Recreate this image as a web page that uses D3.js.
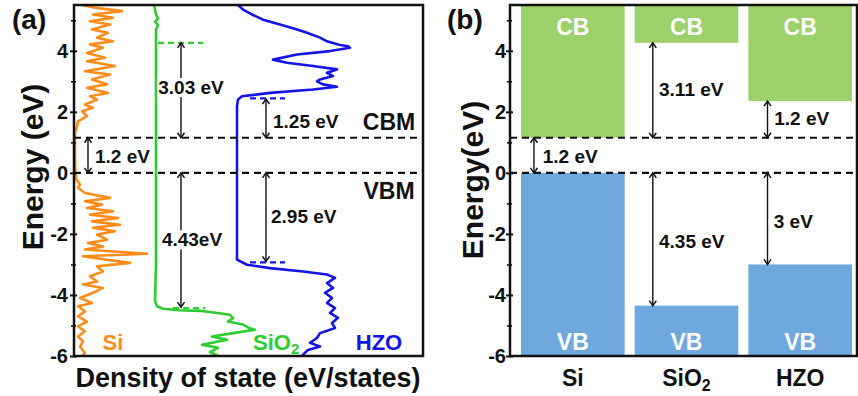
<!DOCTYPE html>
<html>
<head>
<meta charset="utf-8">
<script src="https://cdn.jsdelivr.net/npm/d3@7"></script>
<style>
  body { margin: 0; background: #fff; }
  svg { display: block; font-family: "Liberation Sans", Arial, sans-serif; font-weight: bold; }
</style>
</head>
<body>
<div id="chart"></div>
<script>

// ---- data ----
// DOS curves: [energy (eV), density (arb. units)]
var siDos = [
  [5.5,0.8],[5.42,2.0],[5.30,4.8],[5.19,1.9],[5.08,3.9],[4.97,1.6],[4.86,3.6],[4.70,1.8],[4.59,3.4],
  [4.43,2.3],[4.31,3.9],[4.21,1.6],[4.10,2.9],[3.93,1.3],[3.77,3.1],[3.66,1.3],[3.50,4.1],[3.33,1.1],
  [3.22,3.6],[3.06,1.8],[2.90,3.3],[2.79,1.3],[2.62,3.4],[2.51,1.6],[2.40,2.3],[2.24,1.1],[2.13,1.9],
  [2.02,0.8],[1.86,1.3],[1.69,0.4],[1.53,0.3],[1.31,0.1],[1.0,0.1],[0.5,0.1],[0.0,0.15],[-0.2,0.2],
  [-0.38,0.6],[-0.49,0.4],[-0.66,1.1],[-0.82,3.6],[-0.93,1.1],[-1.04,2.8],[-1.15,1.3],[-1.26,3.9],
  [-1.37,1.6],[-1.48,4.4],[-1.59,1.8],[-1.70,4.6],[-1.80,1.9],[-1.91,4.1],[-2.02,2.3],[-2.19,3.3],
  [-2.30,1.4],[-2.41,2.9],[-2.51,1.1],[-2.65,7.3],[-2.73,0.9],[-2.84,3.1],[-2.95,5.6],[-3.06,2.3],
  [-3.23,2.9],[-3.39,1.6],[-3.56,2.3],[-3.66,0.9],[-3.77,2.9],[-3.93,1.9],[-4.10,0.6],[-4.26,1.8],
  [-4.37,0.4],[-4.54,1.1],[-4.70,0.4],[-4.87,1.3],[-5.03,0.4],[-5.19,1.1],[-5.36,0.4],[-5.52,0.9],
  [-5.69,0.6],[-5.91,1.1],[-6.0,0.8]
];
var sio2Dos = [
  [5.5,8.0],[5.2,8.2],[5.05,8.4],[4.95,8.1],[4.85,8.4],[4.7,8.2],[4.4,8.2],[3.0,8.2],[1.0,8.2],
  [-1.0,8.2],[-3.0,8.2],[-4.2,8.1],[-4.37,8.3],[-4.45,8.9],[-4.5,10.5],[-4.52,12.6],[-4.6,14.5],
  [-4.65,15.6],[-4.76,15.9],[-4.87,15.4],[-4.97,16.9],[-5.08,17.5],[-5.14,18.1],[-5.25,15.9],
  [-5.36,13.8],[-5.47,15.3],[-5.63,12.8],[-5.73,14.4],[-5.87,13.6],[-6.0,14.4]
];
var hzoDos = [
  [5.5,16.4],[5.35,16.9],[5.19,17.8],[5.02,18.9],[4.86,20.6],[4.70,22.3],[4.59,23.3],[4.43,24.6],
  [4.31,25.3],[4.20,26.5],[4.15,27.4],[4.10,27.6],[3.99,25.6],[3.88,22.3],[3.71,19.9],[3.61,21.3],
  [3.50,23.9],[3.39,26.3],[3.28,25.3],[3.17,25.9],[3.06,24.6],[3.00,24.3],[2.90,24.9],[2.82,26.3],
  [2.73,23.9],[2.62,19.6],[2.51,16.8],[2.40,16.4],[2.18,16.3],[0,16.3],[-2.84,16.3],[-3.01,17.3],
  [-3.12,19.6],[-3.23,22.9],[-3.33,25.3],[-3.44,26.1],[-3.61,25.3],[-3.77,25.9],[-3.93,25.1],
  [-4.10,25.8],[-4.26,25.3],[-4.43,26.1],[-4.59,25.6],[-4.75,26.4],[-4.92,25.8],[-5.08,26.1],
  [-5.25,24.6],[-5.41,24.3],[-5.57,23.6],[-5.69,24.6],[-5.80,23.4],[-5.96,22.9],[-6.0,22.9]
];

var materials = ["Si", "SiO2", "HZO"];
var cbBottom = [1.15, 4.26, 2.35];
var vbTop = [0, -4.35, -3.0];
var cbm = 1.15, vbm = 0;

var majorTicks = [-6, -4, -2, 0, 2, 4];
var minorTicks = [-5, -3, -1, 1, 3, 5];

// panel (a) annotations
var dashMarksA = [
  { e: 4.26, x0: 8.4, x1: 12.9, color: "#2ecc2e" },
  { e: -4.43, x0: 9.9, x1: 13.1, color: "#2ecc2e" },
  { e: 2.44, x0: 17.6, x1: 21.1, color: "#1414e6" },
  { e: -2.93, x0: 17.6, x1: 21.1, color: "#1414e6" }
];
var arrowsA = [
  { x: 1.4, e0: 0, e1: cbm },
  { x: 10.7, e0: cbm, e1: 4.26 },
  { x: 10.7, e0: 0, e1: -4.4 },
  { x: 19.2, e0: cbm, e1: 2.42 },
  { x: 19.2, e0: 0, e1: -2.9 }
];
var labelsA = [
  { t: "1.2 eV", x: 2.1, e: 0.55, anchor: "start", box: false },
  { t: "3.03 eV", x: 11.7, e: 2.8, anchor: "middle", box: true },
  { t: "4.43eV", x: 11.8, e: -2.19, anchor: "middle", box: true },
  { t: "1.25 eV", x: 19.9, e: 1.68, anchor: "start", box: false },
  { t: "2.95 eV", x: 19.7, e: -1.43, anchor: "start", box: false }
];

// panel (b) annotations (x as fraction of bar width)
var arrowsB = [
  { m: "Si", f: 0.125, e0: 0, e1: cbm },
  { m: "SiO2", f: 0.175, e0: cbm, e1: 4.26 },
  { m: "SiO2", f: 0.175, e0: 0, e1: -4.35 },
  { m: "HZO", f: 0.185, e0: cbm, e1: 2.35 },
  { m: "HZO", f: 0.185, e0: 0, e1: -3.0 }
];
var labelsB = [
  { m: "Si", f: 0.21, e: 0.53, t: "1.2 eV" },
  { m: "SiO2", f: 0.235, e: 2.73, t: "3.11 eV" },
  { m: "SiO2", f: 0.235, e: -2.25, t: "4.35 eV" },
  { m: "HZO", f: 0.25, e: 1.78, t: "1.2 eV" },
  { m: "HZO", f: 0.245, e: -1.6, t: "3 eV" }
];

var width = 858, height = 396;

var svg = d3.select("#chart").append("svg")
  .attr("width", width)
  .attr("height", height);

var defs = svg.append("defs");
defs.append("marker")
  .attr("id", "head")
  .attr("viewBox", "-6 -5 8 10")
  .attr("refX", 0).attr("refY", 0)
  .attr("markerWidth", 8).attr("markerHeight", 10)
  .attr("markerUnits", "userSpaceOnUse")
  .attr("orient", "auto-start-reverse")
  .append("path")
    .attr("d", "M-5,-3.5L0,0L-5,3.5")
    .attr("fill", "none")
    .attr("stroke", "#111")
    .attr("stroke-width", 1.5);

var y = d3.scaleLinear().domain([-6, 5.5]).range([356, 5]);

function drawYAxis(g, x0, pad) {
  var ax = g.append("g").attr("transform", "translate(" + x0 + ",0)")
    .call(d3.axisLeft(y).tickValues(majorTicks).tickSize(4).tickPadding(pad)
      .tickFormat(function(d) { return String(d); }));
  ax.select(".domain").remove();
  ax.selectAll("line").attr("x1", 3).attr("stroke", "#111").attr("stroke-width", 2);
  ax.selectAll("text").attr("font-size", 20).attr("font-weight", "bold").attr("fill", "#111")
    .attr("font-family", "Liberation Sans, Arial, sans-serif");
  var mi = g.append("g").attr("transform", "translate(" + x0 + ",0)")
    .call(d3.axisLeft(y).tickValues(minorTicks).tickSize(3).tickFormat(""));
  mi.select(".domain").remove();
  mi.selectAll("line").attr("x1", 2).attr("stroke", "#111").attr("stroke-width", 1.6);
}

function arrow(g, x, e0, e1) {
  g.append("line")
    .attr("x1", x).attr("x2", x)
    .attr("y1", y(e0)).attr("y2", y(e1))
    .attr("stroke", "#111").attr("stroke-width", 1.4)
    .attr("marker-start", "url(#head)")
    .attr("marker-end", "url(#head)");
}

// ===================== panel (a) =====================
var ga = svg.append("g");
var xa = d3.scaleLinear().domain([0, 34.9]).range([74, 423]);

defs.append("clipPath").attr("id", "clipA")
  .append("rect").attr("x", 74).attr("y", 5).attr("width", 349).attr("height", 351);

var line = d3.line()
  .x(function(d) { return xa(d[1]); })
  .y(function(d) { return y(d[0]); });

var curves = ga.append("g").attr("clip-path", "url(#clipA)");
[[siDos, "#ff8c1a"], [sio2Dos, "#2ecc2e"], [hzoDos, "#1414e6"]].forEach(function(c) {
  curves.append("path")
    .datum(c[0])
    .attr("d", line)
    .attr("fill", "none")
    .attr("stroke", c[1])
    .attr("stroke-width", 2.6)
    .attr("stroke-linejoin", "round");
});

// band edge dashed lines
[cbm, vbm].forEach(function(e) {
  ga.append("line")
    .attr("x1", xa(0)).attr("x2", xa(34.9))
    .attr("y1", y(e)).attr("y2", y(e))
    .attr("stroke", "#111").attr("stroke-width", 2.2)
    .attr("stroke-dasharray", "7,5");
});

dashMarksA.forEach(function(d) {
  ga.append("line")
    .attr("x1", xa(d.x0)).attr("x2", xa(d.x1))
    .attr("y1", y(d.e)).attr("y2", y(d.e))
    .attr("stroke", d.color).attr("stroke-width", 2.2)
    .attr("stroke-dasharray", "6,4");
});

arrowsA.forEach(function(d) { arrow(ga, xa(d.x), d.e0, d.e1); });

labelsA.forEach(function(d) {
  var t = ga.append("text")
    .attr("x", xa(d.x)).attr("y", y(d.e))
    .attr("dy", "0.35em")
    .attr("text-anchor", d.anchor)
    .attr("font-size", 19)
    .attr("fill", "#111")
    .text(d.t);
  if (d.box) {
    var b = t.node().getBBox();
    ga.insert("rect", function() { return t.node(); })
      .attr("x", b.x - 1).attr("y", b.y + 1)
      .attr("width", b.width + 2).attr("height", b.height - 2)
      .attr("fill", "#fff");
  }
});

ga.append("text").attr("x", xa(31.5)).attr("y", y(1.68)).attr("dy", "0.35em")
  .attr("text-anchor", "middle").attr("font-size", 23).attr("fill", "#111").text("CBM");
ga.append("text").attr("x", xa(31.5)).attr("y", y(-0.58)).attr("dy", "0.35em")
  .attr("text-anchor", "middle").attr("font-size", 23).attr("fill", "#111").text("VBM");

// curve labels
ga.append("text").attr("x", xa(3.9)).attr("y", y(-5.55)).attr("dy", "0.35em")
  .attr("text-anchor", "middle").attr("font-size", 22).attr("fill", "#ff8c1a").text("Si");
var sio2Lab = ga.append("text").attr("x", xa(17.9)).attr("y", y(-5.55)).attr("dy", "0.35em")
  .attr("font-size", 22).attr("fill", "#2ecc2e");
sio2Lab.append("tspan").text("SiO");
sio2Lab.append("tspan").attr("font-size", 15).attr("dy", "0.3em").text("2");
ga.append("text").attr("x", xa(30.5)).attr("y", y(-5.55)).attr("dy", "0.35em")
  .attr("text-anchor", "middle").attr("font-size", 22).attr("fill", "#1414e6").text("HZO");

ga.append("rect")
  .attr("x", 74).attr("y", 5).attr("width", 349).attr("height", 351)
  .attr("fill", "none").attr("stroke", "#111").attr("stroke-width", 2.5);

drawYAxis(ga, 74, 2);

ga.append("text")
  .attr("transform", "translate(32,167) rotate(-90)")
  .attr("text-anchor", "middle").attr("dy", "0.35em")
  .attr("font-size", 30).attr("fill", "#111").text("Energy (eV)");
ga.append("text")
  .attr("x", 248).attr("y", 387)
  .attr("text-anchor", "middle")
  .attr("font-size", 27).attr("fill", "#111").text("Density of state (eV/states)");
ga.append("text").attr("x", 12).attr("y", 29)
  .attr("font-size", 28).attr("fill", "#111").text("(a)");

// ===================== panel (b) =====================
var gb = svg.append("g");
var xb = d3.scaleBand().domain(materials).range([516, 857])
  .paddingInner(0.088).paddingOuter(0.044);
var bw = xb.bandwidth();

gb.selectAll(".cb").data(materials).enter().append("rect")
  .attr("class", "cb")
  .attr("x", function(d) { return xb(d); })
  .attr("y", y(5.5))
  .attr("width", bw)
  .attr("height", function(d, i) { return y(cbBottom[i]) - y(5.5); })
  .attr("fill", "#9dd16b");

gb.selectAll(".vb").data(materials).enter().append("rect")
  .attr("class", "vb")
  .attr("x", function(d) { return xb(d); })
  .attr("y", function(d, i) { return y(vbTop[i]); })
  .attr("width", bw)
  .attr("height", function(d, i) { return y(-6) - y(vbTop[i]); })
  .attr("fill", "#6fa8dc");

gb.selectAll(".cbt").data(materials).enter().append("text")
  .attr("x", function(d) { return xb(d) + bw / 2; })
  .attr("y", y(5.5) + 22).attr("dy", "0.35em")
  .attr("text-anchor", "middle").attr("font-size", 23).attr("fill", "#fff")
  .text("CB");
gb.selectAll(".vbt").data(materials).enter().append("text")
  .attr("x", function(d) { return xb(d) + bw / 2; })
  .attr("y", y(-6) - 14).attr("dy", "0.35em")
  .attr("text-anchor", "middle").attr("font-size", 23).attr("fill", "#fff")
  .text("VB");

[cbm, vbm].forEach(function(e) {
  gb.append("line")
    .attr("x1", 510).attr("x2", 857)
    .attr("y1", y(e)).attr("y2", y(e))
    .attr("stroke", "#111").attr("stroke-width", 2.2)
    .attr("stroke-dasharray", "7,5");
});

arrowsB.forEach(function(d) { arrow(gb, xb(d.m) + bw * d.f, d.e0, d.e1); });
labelsB.forEach(function(d) {
  gb.append("text")
    .attr("x", xb(d.m) + bw * d.f).attr("y", y(d.e)).attr("dy", "0.35em")
    .attr("font-size", 19).attr("fill", "#111").text(d.t);
});

// category labels
gb.selectAll(".cat").data(materials).enter().append("text")
  .attr("class", "cat")
  .attr("x", function(d) { return xb(d) + bw / 2; })
  .attr("y", 386)
  .attr("text-anchor", "middle").attr("font-size", 23).attr("fill", "#111")
  .each(function(d) {
    var t = d3.select(this);
    if (d === "SiO2") {
      t.append("tspan").text("SiO");
      t.append("tspan").attr("font-size", 16).attr("dy", "0.3em").text("2");
    } else {
      t.text(d);
    }
  });

gb.append("rect")
  .attr("x", 510).attr("y", 5).attr("width", 347).attr("height", 351)
  .attr("fill", "none").attr("stroke", "#111").attr("stroke-width", 2.5);

drawYAxis(gb, 510, 0);

gb.append("text")
  .attr("transform", "translate(472,180) rotate(-90)")
  .attr("text-anchor", "middle").attr("dy", "0.35em")
  .attr("font-size", 30).attr("fill", "#111").text("Energy(eV)");
gb.append("text").attr("x", 447).attr("y", 29)
  .attr("font-size", 28).attr("fill", "#111").text("(b)");

</script>
</body>
</html>
